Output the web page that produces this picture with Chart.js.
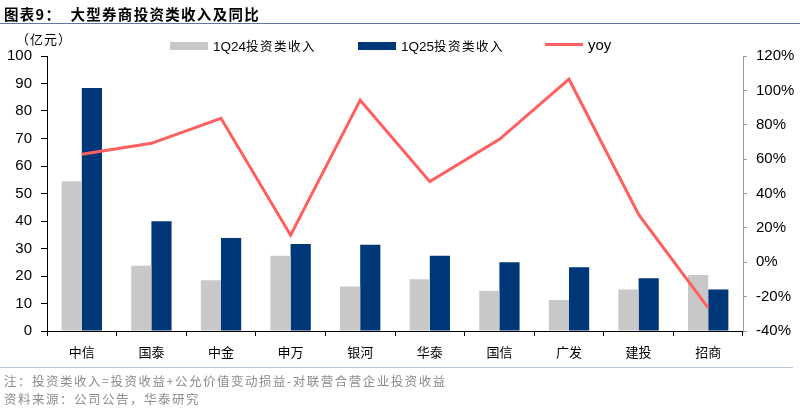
<!DOCTYPE html>
<html>
<head>
<meta charset="utf-8">
<script src="https://cdn.jsdelivr.net/npm/chart.js@4/dist/chart.umd.min.js"></script>
<style>
  html, body { margin: 0; padding: 0; background: #fff; }
  #wrap { position: relative; width: 800px; height: 412px; overflow: hidden; font-family: "Liberation Sans", Arial, sans-serif; }
  #chart { position: absolute; left: 0; top: 0; }
  .title { position: absolute; left: 4px; top: 3px; font: bold 14.5px "Noto Sans CJK SC", sans-serif; color: #000; letter-spacing: 1.3px; }
  .rule-top { position: absolute; left: 0; top: 23px; width: 800px; height: 0; border-top: 1.5px solid #5d7aa6; }
  .rule-bot { position: absolute; left: 0; top: 367px; width: 793px; height: 0; border-top: 1.5px solid #b4c6df; }
  .unit { position: absolute; left: 16px; top: 29px; font: 13px "Noto Sans CJK SC", sans-serif; color: #000; letter-spacing: 1px; }
  .note { position: absolute; left: 4px; font: 12.5px "Noto Sans CJK SC", sans-serif; color: #8c8c8c; letter-spacing: 1.5px; }
  .legend { position: absolute; top: 36px; font: 13.5px "Liberation Sans", Arial, sans-serif; color: #000; }
  .legend .sw { display: inline-block; vertical-align: middle; width: 38px; height: 8px; margin-right: 5px; }
  .legend .ln { display: inline-block; vertical-align: middle; width: 38px; height: 3px; margin-right: 5px; }
  .legend span.t { vertical-align: middle; }
  .legend .zh { font-family: "Noto Sans CJK SC", sans-serif; font-size: 12.5px; letter-spacing: 1.5px; }
</style>
</head>
<body>
<div id="wrap">
  <canvas id="chart" width="800" height="412"></canvas>
  <div class="title">图表9：&nbsp;&nbsp;大型券商投资类收入及同比</div>
  <div class="rule-top"></div>
  <div class="unit">（亿元）</div>
  <div class="legend" style="left:170px"><span class="sw" style="background:#c8c8c8"></span><span class="t">1Q24<span class="zh">投资类收入</span></span></div>
  <div class="legend" style="left:358px"><span class="sw" style="background:#003778"></span><span class="t">1Q25<span class="zh">投资类收入</span></span></div>
  <div class="legend" style="left:545px"><span class="ln" style="background:#ff5f5f"></span><span class="t" style="font-size:15px">yoy</span></div>
  <div class="rule-bot"></div>
  <div class="note" style="top:371px">注：投资类收入=投资收益+公允价值变动损益-对联营合营企业投资收益</div>
  <div class="note" style="top:389px">资料来源：公司公告，华泰研究</div>
</div>
<script>
'use strict';

// 券商
var brokers = ['中信', '国泰', '中金', '申万', '银河', '华泰', '国信', '广发', '建投', '招商'];
// 投资类收入（亿元）
var income1Q24 = [54.5, 23.7, 18.5, 27.4, 16.2, 18.8, 14.6, 11.3, 15.1, 20.4];
var income1Q25 = [88.4, 39.9, 33.8, 31.6, 31.4, 27.4, 25.0, 23.2, 19.2, 15.1];
// 同比（%）
var yoy = [62.8, 69.2, 83.8, 15.7, 94.3, 46.9, 71.5, 106.5, 27.8, -26.6];

var leftTicks = { min: 0, max: 100, step: 10 };
var rightTicks = { min: -40, max: 120, step: 20 };

var numFont = { family: '"Liberation Sans", Arial, sans-serif', size: 15 };
var zhFont = { family: '"Noto Sans CJK SC", sans-serif', size: 13 };

new Chart(document.getElementById('chart'), {
    data: {
        labels: brokers,
        datasets: [
            {
                type: 'line', label: 'yoy', data: yoy, yAxisID: 'y1',
                borderColor: '#ff5f5f', borderWidth: 3, pointRadius: 0,
                tension: 0, order: 0
            },
            {
                type: 'bar', label: '1Q24投资类收入', data: income1Q24, yAxisID: 'y',
                backgroundColor: '#c8c8c8', barPercentage: 1, categoryPercentage: 0.58, order: 1
            },
            {
                type: 'bar', label: '1Q25投资类收入', data: income1Q25, yAxisID: 'y',
                backgroundColor: '#003778', barPercentage: 1, categoryPercentage: 0.58, order: 1
            }
        ]
    },
    options: {
        responsive: false,
        animation: false,
        devicePixelRatio: 1,
        layout: { padding: { top: 56, left: 0, right: 0, bottom: 0 } },
        plugins: { legend: { display: false }, tooltip: { enabled: false } },
        scales: {
            x: {
                grid: { drawOnChartArea: false, drawTicks: true, tickLength: 5, color: '#000', offset: true },
                border: { display: true, color: '#000', width: 1 },
                ticks: { color: '#000', font: zhFont, padding: 8 },
                afterFit: function(s) { s.height = 81; }
            },
            y: {
                position: 'left',
                min: leftTicks.min, max: leftTicks.max,
                grid: { drawOnChartArea: false, drawTicks: true, tickLength: 6, color: '#000' },
                border: { display: true, color: '#000', width: 1 },
                ticks: { stepSize: leftTicks.step, color: '#000', font: numFont, padding: 9 },
                afterFit: function(s) { s.width = 47; }
            },
            y1: {
                position: 'right',
                min: rightTicks.min, max: rightTicks.max,
                grid: { drawOnChartArea: false, drawTicks: true, tickLength: 4, color: '#999' },
                border: { display: true, color: '#999', width: 1 },
                ticks: {
                    stepSize: rightTicks.step, color: '#000', font: numFont, padding: 9,
                    callback: function(v) { return v + '%'; }
                },
                afterFit: function(s) { s.width = 57; }
            }
        }
    }
});
</script>
</body>
</html>
